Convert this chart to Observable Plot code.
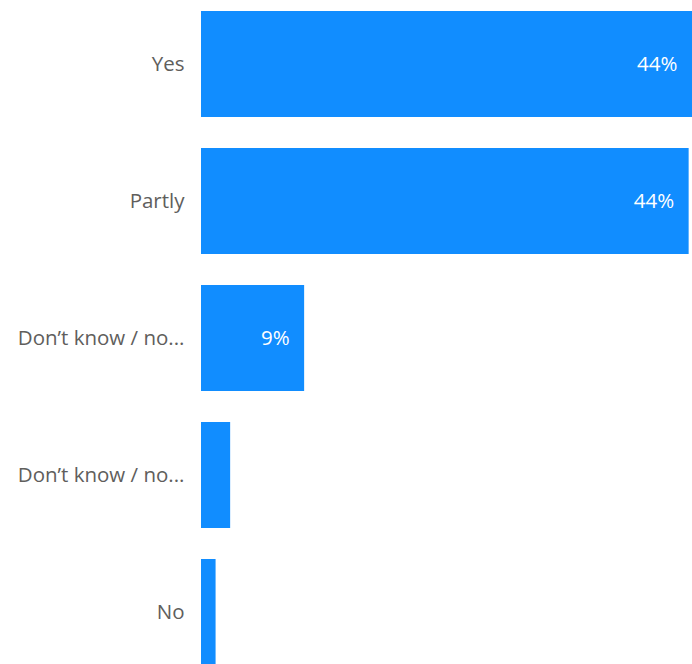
<!DOCTYPE html>
<html>
<head>
<meta charset="utf-8">
<script src="https://cdn.jsdelivr.net/npm/d3@7"></script>
<script src="https://cdn.jsdelivr.net/npm/@observablehq/plot@0.6"></script>
<style>
  html, body { margin: 0; padding: 0; background: #fff; overflow: hidden; }
  #chart svg { overflow: hidden; display: block; }
</style>
</head>
<body>
<div id="chart"></div>
<script>
const keys = ["yes", "partly", "dk1", "dk2", "no"];
const labels = ["Yes", "Partly", "Don’t know / no...", "Don’t know / no...", "No"];
const values = [43.8, 43.5, 9.2, 2.6, 1.3];
const valueLabels = ["44%", "44%", "9%", "", ""];

const data = keys.map((k, i) => ({key: k, label: labels[i], value: values[i], text: valueLabels[i]}));
const labelOf = Object.fromEntries(keys.map((k, i) => [k, labels[i]]));

const chart = Plot.plot({
  width: 692,
  height: 664,
  style: {fontFamily: "'Open Sans', 'Segoe UI', sans-serif", background: "#fff"},
  x: {domain: [0, d3.max(values)], range: [201, 692], axis: null},
  y: {domain: keys, range: [-21, 696.5], padding: 0.228, axis: null},
  marks: [
    Plot.barX(data, {x: "value", y: "key", fill: "#118DFF"}),
    Plot.text(data, {
      x: 0, y: "key", text: d => labelOf[d.key],
      textAnchor: "end", dx: -17, fill: "#605E5C", fontSize: 20.5
    }),
    Plot.text(data, {
      x: "value", y: "key", text: "text",
      textAnchor: "end", dx: -15, fill: "#ffffff", fontSize: 20.5
    })
  ]
});
document.getElementById("chart").appendChild(chart);
</script>
</body>
</html>
